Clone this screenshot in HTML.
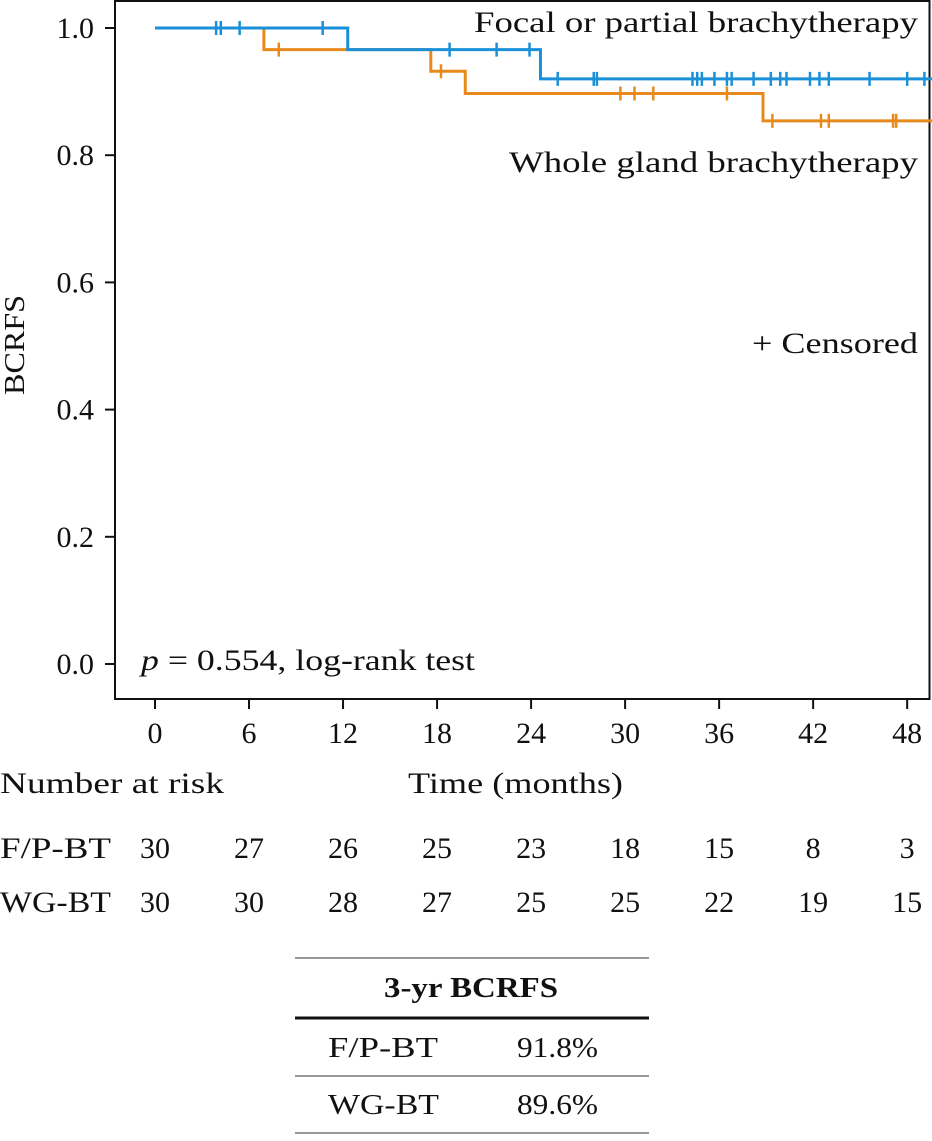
<!DOCTYPE html>
<html><head><meta charset="utf-8"><style>
body{margin:0;background:#fff;width:932px;height:1136px;overflow:hidden}
svg text{font-family:"Liberation Serif",serif;fill:#111}
</style></head><body>
<svg id="chart" width="932" height="1136">
<rect x="115" y="1" width="814.5" height="698" fill="none" stroke="#111" stroke-width="2"/>
<g id="axes"></g>
<g id="curves"></g>
<text x="474" y="32" font-size="30" textLength="444" lengthAdjust="spacingAndGlyphs">Focal or partial brachytherapy</text>
<text x="509" y="172" font-size="30" textLength="409" lengthAdjust="spacingAndGlyphs">Whole gland brachytherapy</text>
<text x="752" y="353" font-size="30" textLength="166" lengthAdjust="spacingAndGlyphs">+ Censored</text>
<text x="141" y="670" font-size="30" textLength="334" lengthAdjust="spacingAndGlyphs"><tspan font-style="italic">p</tspan> = 0.554, log-rank test</text>
<text transform="translate(24,345) rotate(-90)" font-size="29" text-anchor="middle" textLength="100" lengthAdjust="spacingAndGlyphs">BCRFS</text>
<text x="0" y="793" font-size="30" textLength="224" lengthAdjust="spacingAndGlyphs">Number at risk</text>
<text x="408" y="793" font-size="30" textLength="215" lengthAdjust="spacingAndGlyphs">Time (months)</text>
<g id="risk"></g>
<g>
<line x1="295" x2="649" y1="958" y2="958" stroke="#777" stroke-width="1.5"/>
<line x1="295" x2="649" y1="1018" y2="1018" stroke="#111" stroke-width="3"/>
<line x1="295" x2="649" y1="1076" y2="1076" stroke="#777" stroke-width="1.5"/>
<line x1="295" x2="649" y1="1133" y2="1133" stroke="#777" stroke-width="1.5"/>
<text x="384" y="997" font-size="29" font-weight="bold" textLength="174" lengthAdjust="spacingAndGlyphs">3-yr BCRFS</text>
<text x="328" y="1057" font-size="29" textLength="110" lengthAdjust="spacingAndGlyphs">F/P-BT</text>
<text x="517" y="1057" font-size="29" textLength="81" lengthAdjust="spacingAndGlyphs">91.8%</text>
<text x="328" y="1114" font-size="29" textLength="111" lengthAdjust="spacingAndGlyphs">WG-BT</text>
<text x="517" y="1114" font-size="29" textLength="81" lengthAdjust="spacingAndGlyphs">89.6%</text>
</g>
</svg>
<script>
const xTicks=[0,6,12,18,24,30,36,42,48];
const yTicks=[0,0.2,0.4,0.6,0.8,1.0];
const fpEventTimes=[0,12.3,24.6];
const fpSurv=[1.0,0.966,0.92];
const fpCensor=[3.9,4.2,5.4,10.7,18.8,21.8,23.9,25.7,28.0,28.2,34.3,34.6,34.9,35.7,36.5,36.8,38.2,39.3,39.9,40.3,41.8,42.4,43.0,45.6,48.0,49.1];
const wgEventTimes=[0,6.95,17.6,19.8,38.8];
const wgSurv=[1.0,0.966,0.932,0.897,0.854];
const wgCensor=[7.9,18.25,29.7,30.6,31.8,36.5,39.4,42.5,43.0,47.1,47.3];
const riskFP=[30,27,26,25,23,18,15,8,3];
const riskWG=[30,30,28,27,25,25,22,19,15];
const X0=155,PXM=15.67,Y0=664,PXU=636,XMAX=49.6;
const xs=t=>X0+t*PXM, ys=v=>Y0-v*PXU;
const NS="http://www.w3.org/2000/svg";
function mk(tag,attrs,parent){const e=document.createElementNS(NS,tag);for(const k in attrs)e.setAttribute(k,attrs[k]);parent.appendChild(e);return e;}
const axes=document.getElementById('axes');
xTicks.forEach(t=>{
 const l=mk('line',{x1:xs(t),x2:xs(t),y1:700,y2:709,stroke:'#111','stroke-width':2},axes);
 
 
 const tx=mk('text',{x:xs(t),y:743,'font-size':30,'text-anchor':'middle'},axes);tx.textContent=t;
 
 
});
yTicks.forEach(v=>{
 const l=mk('line',{x1:105,x2:115,y1:ys(v),y2:ys(v),stroke:'#111','stroke-width':2},axes);
 
 
 const tx=mk('text',{x:94,y:ys(v)+10,'font-size':30,'text-anchor':'end'},axes);tx.textContent=v.toFixed(1);
 
 
});
const curves=document.getElementById('curves');
function survAt(times,surv,t){let s=surv[0];for(let i=0;i<times.length;i++)if(times[i]<=t)s=surv[i];return s;}
function draw(times,surv,cens,color,name){
 let d=`M${xs(times[0])},${ys(surv[0])}`;
 for(let i=1;i<times.length;i++){d+=` H${xs(times[i])} V${ys(surv[i])}`;}
 d+=` H${xs(XMAX)}`;
 const p=mk('path',{d:d,fill:'none',stroke:color,'stroke-width':3},curves);
 
 
 cens.forEach(t=>{
  const y=ys(survAt(times,surv,t));
  const m=mk('line',{x1:xs(t),x2:xs(t),y1:y-7,y2:y+7,stroke:color,'stroke-width':2.5},curves);
  
  
 });
}
draw(wgEventTimes,wgSurv,wgCensor,'#e8891c','wg-bt');
draw(fpEventTimes,fpSurv,fpCensor,'#1a90d8','fp-bt');
const risk=document.getElementById('risk');
[['F/P-BT',riskFP,858],['WG-BT',riskWG,912]].forEach(([lab,arr,y])=>{
 const t=mk('text',{x:0,y:y,'font-size':30,textLength:111,lengthAdjust:'spacingAndGlyphs'},risk);t.textContent=lab;
 
 
 arr.forEach((n,i)=>{
  const c=mk('text',{x:xs(xTicks[i]),y:y,'font-size':30,'text-anchor':'middle'},risk);c.textContent=n;
  
  
 });
});
</script>
</body></html>
